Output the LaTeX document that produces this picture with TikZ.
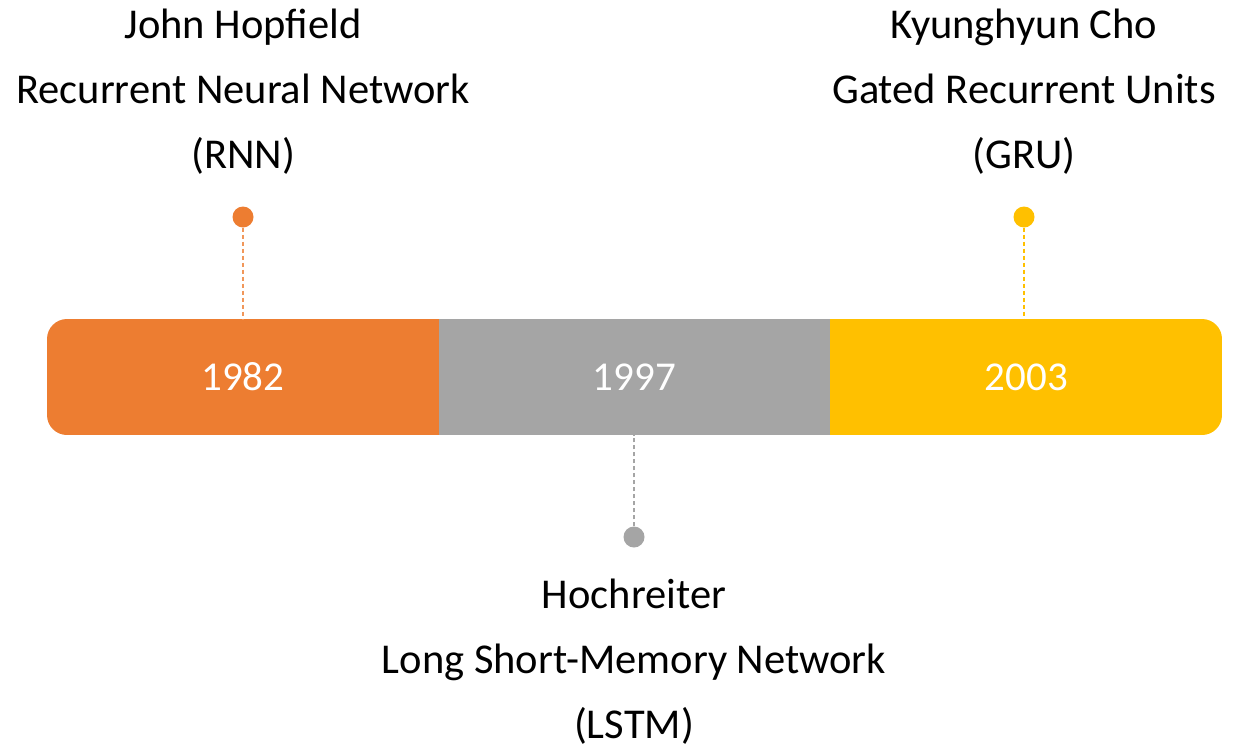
\documentclass[tikz,border=0pt]{standalone}
\usepackage{fontspec}
\setmainfont{Carlito}
\definecolor{rnnorange}{HTML}{ED7D31}
\definecolor{lstmgrey}{HTML}{A5A5A5}
\definecolor{gruyellow}{HTML}{FFC000}

\begin{document}
\begin{tikzpicture}[x=1pt, y=-1pt,
        seg/.style={minimum width=391.67pt, minimum height=116pt, inner sep=0pt,
            text=white, font=\fontsize{41}{48}\selectfont},
        dot/.style={circle, inner sep=0pt, minimum size=21pt},
        info/.style={align=center, font=\fontsize{42.5}{65}\selectfont},
        link/.style={line width=1.2pt, dash pattern=on 4pt off 3pt}]
        \useasboundingbox (0,0) rectangle (1238,750);

        % the time bar
        \begin{scope}
            \clip[rounded corners=20pt] (47,319) rectangle (1222,435);
            \node[seg, fill=rnnorange] (y1) at (242.8,377) {1982};
            \node[seg, fill=lstmgrey] (y2) at (634.5,377) {1997};
            \node[seg, fill=gruyellow] (y3) at (1026.2,377) {2003};
        \end{scope}

        \node[dot, fill=rnnorange] (d1) at (243,217) {};
        \node[dot, fill=lstmgrey] (d2) at (634,537) {};
        \node[dot, fill=gruyellow] (d3) at (1024,217) {};

        \draw[link, rnnorange!80] (d1) -- (d1 |- y1.north);
        \draw[link, lstmgrey] (d2) -- (d2 |- y2.south);
        \draw[link, gruyellow] (d3) -- (d3 |- y3.north);

        \node[info] (rnn) at (243,92) {John Hopfield\\Recurrent Neural Network\\(RNN)};
        \node[info] (lstm) at (634,662) {Hochreiter\\Long Short-Memory Network\\(LSTM)};
        \node[info] (gru) at (1024,92) {Kyunghyun Cho\\Gated Recurrent Units\\(GRU)};
    \end{tikzpicture}
\end{document}
